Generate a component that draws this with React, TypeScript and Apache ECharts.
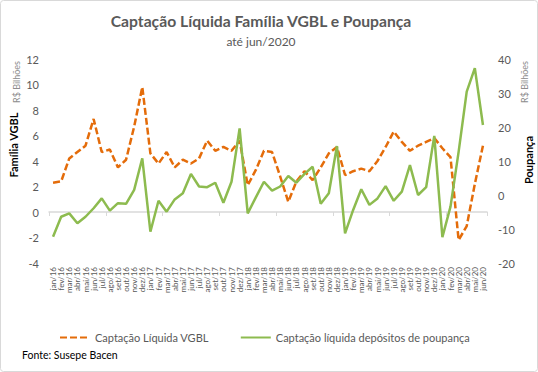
import React, { useEffect, useRef } from "react";
import * as echarts from "echarts";

const monthNames = ["jan", "fev", "mar", "abr", "mai", "jun", "jul", "ago", "set", "out", "nov", "dez"];
const yearSuffixes = ["16", "17", "18", "19", "20"];
const categories: string[] = [];
yearSuffixes.forEach((y) => monthNames.forEach((m) => categories.push(m + "/" + y)));
categories.splice(54);

const vgbl = [
  2.3, 2.4, 4.2, 4.7, 5.2, 7.3, 4.7, 4.9, 3.5, 4.1, 6.7, 9.8,
  4.6, 3.8, 4.7, 3.5, 4.1, 3.8, 4.2, 5.6, 4.8, 5.1, 4.8, 5.6,
  2.1, 3.3, 4.8, 4.7, 2.8, 0.8, 2.4, 3.2, 2.5, 3.5, 4.6, 5.1,
  2.9, 3.2, 3.4, 3.2, 4.0, 5.1, 6.3, 5.5, 4.8, 5.2, 5.5, 5.8,
  5.0, 4.3, -2.2, -1.1, 2.2, 5.2,
];

const poupanca = [
  -12.3, -6.4, -5.4, -8.3, -6.4, -3.9, -1.0, -4.6, -2.4, -2.6, 1.5, 10.8,
  -10.8, -1.7, -4.9, -1.3, 0.5, 6.2, 2.5, 2.3, 3.6, -2.3, 3.9, 19.6,
  -5.4, -0.7, 3.9, 1.3, 2.5, 5.6, 3.6, 6.2, 8.3, -2.6, 0.5, 14.4,
  -11.3, -4.4, 1.7, -2.9, -1.0, 2.6, -1.7, 1.0, 8.8, 0.0, 2.3, 17.4,
  -12.4, -3.4, 12.7, 30.4, 37.3, 20.6,
];

const seriesNames = ["Captação Líquida VGBL", "Captação líquida depósitos de poupança"];

const FONT = "Lato";
const GRAY = "#595959";

export default function App() {
  const ref = useRef<HTMLDivElement>(null);
  useEffect(() => {
    if (!ref.current) return;
    const chart = echarts.init(ref.current, undefined, { renderer: "svg" });
    chart.setOption({
      animation: false,
      textStyle: { fontFamily: FONT },
      grid: { left: 49, right: 51, top: 59, bottom: 109 },
      legend: {
        left: 54,
        top: 327,
        itemWidth: 30,
        itemHeight: 12,
        itemGap: 31,
        itemStyle: { opacity: 0 },
        textStyle: { color: GRAY, fontSize: 11, fontFamily: FONT },
        data: seriesNames,
      },
      xAxis: [
        {
          type: "category",
          data: categories,
          boundaryGap: true,
          axisLine: { onZero: true, onZeroAxisIndex: 0, lineStyle: { color: "#d9d9d9", width: 1.5 } },
          axisTick: { show: true, length: 4, lineStyle: { color: "#d9d9d9" } },
          axisLabel: { show: false },
          splitLine: { show: false },
        },
        {
          type: "category",
          data: categories,
          position: "bottom",
          boundaryGap: true,
          axisLine: { show: false, onZero: false },
          axisTick: { show: false },
          axisLabel: { rotate: 90, interval: 0, fontSize: 8, color: GRAY, margin: 4, fontFamily: FONT },
          splitLine: { show: false },
        },
      ],
      yAxis: [
        {
          type: "value",
          min: -4,
          max: 12,
          interval: 2,
          axisLine: { show: false },
          axisTick: { show: false },
          splitLine: { show: false },
          axisLabel: { color: GRAY, fontSize: 11, margin: 10, fontFamily: FONT },
        },
        {
          type: "value",
          position: "right",
          min: -20,
          max: 40,
          interval: 10,
          axisLine: { show: false },
          axisTick: { show: false },
          splitLine: { show: false },
          axisLabel: { color: GRAY, fontSize: 11, margin: 11, fontFamily: FONT },
        },
      ],
      series: [
        {
          name: seriesNames[0],
          type: "line",
          xAxisIndex: 0,
          yAxisIndex: 0,
          data: vgbl,
          symbol: "none",
          itemStyle: { color: "#E46C0A" },
          lineStyle: { color: "#E46C0A", width: 2.5, type: [7, 3] },
        },
        {
          name: seriesNames[1],
          type: "line",
          xAxisIndex: 0,
          yAxisIndex: 1,
          data: poupanca,
          symbol: "none",
          itemStyle: { color: "#8DBB4F" },
          lineStyle: { color: "#8DBB4F", width: 2.5 },
        },
      ],
      graphic: [
        {
          type: "rect",
          shape: { x: 0.5, y: 0.5, width: 537, height: 371, r: 3 },
          style: { fill: "none", stroke: "#d9d9d9", lineWidth: 1 },
          silent: true,
        },
        {
          type: "text",
          x: 261,
          y: 21,
          style: {
            text: "Captação Líquida Família VGBL e Poupança",
            fill: GRAY,
            font: `bold 15.7px ${FONT}`,
            textAlign: "center",
            textVerticalAlign: "middle",
          },
        },
        {
          type: "text",
          x: 261,
          y: 41,
          style: {
            text: "até jun/2020",
            fill: GRAY,
            font: `12px ${FONT}`,
            textAlign: "center",
            textVerticalAlign: "middle",
          },
        },
        {
          type: "text",
          x: 16,
          y: 82,
          rotation: Math.PI / 2,
          style: {
            text: "R$ Bilhões",
            fill: "#8c8c8c",
            font: `9px ${FONT}`,
            textAlign: "center",
            textVerticalAlign: "middle",
          },
        },
        {
          type: "text",
          x: 13,
          y: 145,
          rotation: Math.PI / 2,
          style: {
            text: "Família VGBL",
            fill: "#000",
            font: `bold 11px ${FONT}`,
            textAlign: "center",
            textVerticalAlign: "middle",
          },
        },
        {
          type: "text",
          x: 524,
          y: 82,
          rotation: Math.PI / 2,
          style: {
            text: "R$ Bilhões",
            fill: "#8c8c8c",
            font: `9px ${FONT}`,
            textAlign: "center",
            textVerticalAlign: "middle",
          },
        },
        {
          type: "text",
          x: 528,
          y: 160,
          rotation: Math.PI / 2,
          style: {
            text: "Poupança",
            fill: "#000",
            font: `bold 11px ${FONT}`,
            textAlign: "center",
            textVerticalAlign: "middle",
          },
        },
        {
          type: "text",
          x: 22,
          y: 355,
          style: {
            text: "Fonte: Susepe Bacen",
            fill: "#000",
            font: `10.5px ${FONT}`,
            textAlign: "left",
            textVerticalAlign: "middle",
          },
        },
      ],
    });
    return () => chart.dispose();
  }, []);
  return (
    <div
      ref={ref}
      style={{ position: "fixed", left: 0, top: 0, width: 538, height: 372, background: "#fff" }}
    />
  );
}
